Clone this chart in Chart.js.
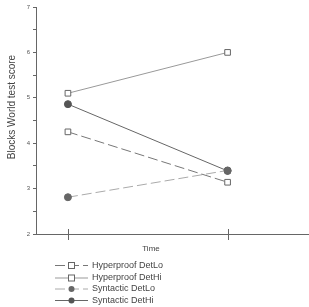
<!DOCTYPE html>
<html><head><meta charset="utf-8">
<script src="https://cdn.jsdelivr.net/npm/chart.js@4/dist/chart.umd.min.js"></script>
<style>html,body{margin:0;padding:0;background:#fff}#wrap{width:309px;height:307px}</style>
</head><body><div id="wrap"><canvas id="c" width="309" height="307"></canvas></div>
<script>
const timePoints = [1, 2];
const seriesNames = ["Hyperproof DetLo", "Hyperproof DetHi", "Syntactic DetLo", "Syntactic DetHi"];
const hyperproofDetLo = [4.25, 3.14];
const hyperproofDetHi = [5.10, 6.00];
const syntacticDetLo = [2.81, 3.40];
const syntacticDetHi = [4.86, 3.39];
const yTickLabels = [2, 3, 4, 5, 6, 7];

const font = "'Liberation Sans', Arial, sans-serif";
const styles = [
  {color:'#777', dash:[10,4], point:'rect', fill:'#fff', r:4},
  {color:'#999', dash:[], point:'rect', fill:'#fff', r:4},
  {color:'#aaa', dash:[10,4], point:'circle', fill:'#666', r:3.5},
  {color:'#666', dash:[], point:'circle', fill:'#555', r:3.5}
];
const values = [hyperproofDetLo, hyperproofDetHi, syntacticDetLo, syntacticDetHi];
const datasets = values.map((v,i)=>({
  label: seriesNames[i],
  data: timePoints.map((t,j)=>({x:t, y:v[j]})),
  borderColor: styles[i].color,
  borderWidth: 1,
  borderDash: styles[i].dash,
  pointStyle: styles[i].point,
  pointRadius: styles[i].r,
  pointBackgroundColor: styles[i].fill,
  pointBorderColor: styles[i].point==='rect' ? '#666' : styles[i].fill,
  pointBorderWidth: 1,
  fill: false,
  tension: 0
}));

const extras = {
  id:'extras',
  afterDraw(chart){
    const ctx = chart.ctx;
    const xs = chart.scales.x;
    ctx.save();
    ctx.strokeStyle = '#666'; ctx.lineWidth = 1;
    timePoints.forEach(t=>{
      const px = Math.round(xs.getPixelForValue(t))+0.5;
      ctx.beginPath(); ctx.moveTo(px, xs.top-5); ctx.lineTo(px, xs.top+6); ctx.stroke();
    });
    ctx.fillStyle = '#444';
    ctx.font = "8px " + font;
    ctx.textAlign = 'center'; ctx.textBaseline = 'middle';
    ctx.fillText('Time', 151, 249);
    ctx.font = "10px " + font;
    ctx.translate(12, 107); ctx.rotate(-Math.PI/2);
    ctx.fillText('Blocks World test score', 0, 0);
    ctx.restore();
    ctx.save();
    const rows = [265, 277.5, 288.5, 300];
    chart.data.datasets.forEach((ds,i)=>{
      const y = rows[i] + 0.5;
      ctx.strokeStyle = ds.borderColor; ctx.lineWidth = 1;
      ctx.setLineDash(ds.borderDash);
      ctx.beginPath(); ctx.moveTo(55, y); ctx.lineTo(88, y); ctx.stroke();
      ctx.setLineDash([]);
      ctx.fillStyle = ds.pointBackgroundColor; ctx.strokeStyle = ds.pointBorderColor;
      if (ds.pointStyle==='rect'){
        ctx.fillRect(68.5, y-3, 6, 6); ctx.strokeRect(68.5, y-3, 6, 6);
      } else {
        ctx.beginPath(); ctx.arc(71.5, y, 3, 0, Math.PI*2); ctx.fill();
      }
      ctx.fillStyle = '#444'; ctx.font = "9px " + font;
      ctx.textAlign='left'; ctx.textBaseline='middle';
      ctx.fillText(ds.label, 92, y);
    });
    ctx.restore();
  }
};

new Chart(document.getElementById('c'), {
  type:'line',
  data:{datasets},
  options:{
    responsive:false, animation:false,
    layout:{autoPadding:false, padding:{top:7, right:0, bottom:51, left:0}},
    plugins:{legend:{display:false}, tooltip:{enabled:false}},
    scales:{
      x:{type:'linear', min:0.8, max:2.51,
        afterBuildTicks:s=>{s.ticks = timePoints.map(v=>({value:v}));},
        ticks:{display:false},
        grid:{display:false},
        border:{display:true, color:'#666'},
        title:{display:false},
        afterFit:s=>{s.height = 22;}
      },
      y:{min:2, max:7,
        afterBuildTicks:s=>{const t=[];for(let v=2;v<=7;v+=0.5)t.push({value:v});s.ticks=t;},
        ticks:{color:'#555', font:{family:font, size:6}, padding:3,
          callback:v=> yTickLabels.includes(v) ? String(v) : ''},
        grid:{drawOnChartArea:false, tickLength:3, color:'#666'},
        border:{display:true, color:'#666'},
        afterFit:s=>{s.width = 36;}
      }
    }
  },
  plugins:[extras]
});
</script></body></html>
